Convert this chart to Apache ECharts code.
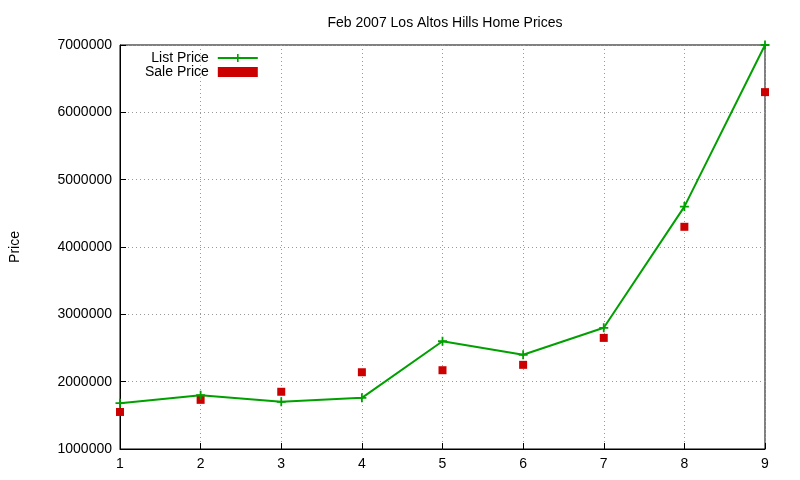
<!DOCTYPE html>
<html><head><meta charset="utf-8">
<script src="https://cdn.jsdelivr.net/npm/echarts@6/dist/echarts.min.js"></script>
<style>html,body{margin:0;padding:0;background:#fff}#c{width:800px;height:480px}</style>
</head><body><div id="c"></div>
<script>
const xValues = [1,2,3,4,5,6,7,8,9];
const listPrice = [1680000,1800000,1700000,1760000,2600000,2400000,2800000,4600000,7000000];
const salePrice = [1550000,1730000,1850000,2140000,2170000,2250000,2650000,4300000,6300000];
const yTicks = [1000000,7000000,1000000];
const font = 'Liberation Sans, Arial, sans-serif';
const plus = 'path://M4,0H6V4H10V6H6V10H4V6H0V4H4Z';
const chart = echarts.init(document.getElementById('c'));
chart.setOption({
  animation:false,
  title:{text:'Feb 2007 Los Altos Hills Home Prices',left:440,top:11,textAlign:'center',
    textStyle:{fontFamily:font,fontSize:14,fontWeight:'normal',color:'#000'}},
  grid:{left:118,right:35,top:45,bottom:31,show:true,borderColor:'#000',borderWidth:1},
  legend:{left:140,top:46,orient:'vertical',align:'right',itemGap:0,itemWidth:40,itemHeight:10,
    textStyle:{fontFamily:font,fontSize:14,color:'#000',padding:[0,4,0,0]},
    data:['List Price','Sale Price']},
  xAxis:{type:'value',min:1,max:9,interval:1,
    axisLine:{lineStyle:{color:'#000'}},axisTick:{inside:true,length:6,lineStyle:{color:'#000'}},
    axisLabel:{fontFamily:font,fontSize:14,color:'#000',margin:8},
    splitLine:{show:true,lineStyle:{color:'#999',type:[1,3]}}},
  yAxis:{type:'value',min:yTicks[0],max:yTicks[1],interval:yTicks[2],
    name:'Price',nameLocation:'middle',nameGap:98,
    nameTextStyle:{fontFamily:font,fontSize:14,color:'#000'},
    axisLine:{show:true,lineStyle:{color:'#000'}},axisTick:{inside:true,length:6,lineStyle:{color:'#000'}},
    axisLabel:{fontFamily:font,fontSize:14,color:'#000',margin:8,formatter:v=>String(v)},
    splitLine:{show:true,lineStyle:{color:'#999',type:[1,3]}}},
  series:[
    {name:'List Price',type:'line',data:xValues.map((x,i)=>[x,listPrice[i]]),
     itemStyle:{color:'#00a000'},lineStyle:{width:2,color:'#00a000'},symbol:plus,symbolSize:9,showSymbol:true},
    {name:'Sale Price',type:'scatter',data:xValues.map((x,i)=>[x,salePrice[i]]),
     itemStyle:{color:'#cc0000',opacity:1},symbol:'rect',symbolSize:8}
  ]
});
</script></body></html>
